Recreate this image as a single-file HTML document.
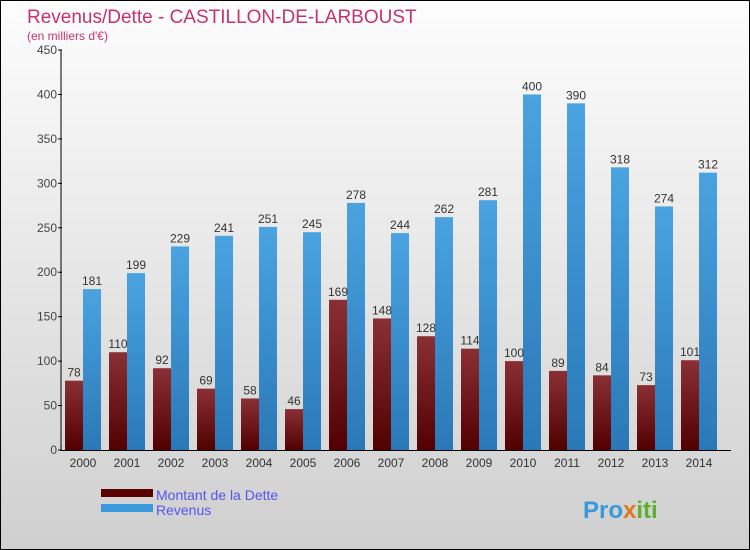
<!DOCTYPE html>
<html><head><meta charset="utf-8"><style>
body{margin:0;width:750px;height:550px;overflow:hidden;font-family:"Liberation Sans",sans-serif}
#wrap{position:absolute;left:0;top:0;width:748px;height:548px;border:1px solid #000;background:linear-gradient(#fdfdfd,#cfcfcf)}
</style></head><body>
<div id="wrap">
<svg id="chart" width="748" height="548" style="position:absolute;left:0;top:0">
<defs>
<linearGradient id="gd" x1="0" y1="0" x2="0" y2="1"><stop offset="0" stop-color="#8a3035"/><stop offset="1" stop-color="#520000"/></linearGradient>
<linearGradient id="gb" x1="0" y1="0" x2="0" y2="1"><stop offset="0" stop-color="#4aa3e0"/><stop offset="1" stop-color="#2a78b8"/></linearGradient>
</defs>
<text x="26" y="22" font-size="19" fill="#c8326e">Revenus/Dette - CASTILLON-DE-LARBOUST</text>
<text x="26" y="39" font-size="12" fill="#c8326e">(en milliers d'€)</text>
<g id="axes"></g><g id="bars"></g>
<rect x="100" y="488" width="52" height="8" fill="#5a0000"/>
<rect x="100" y="503" width="52" height="8" fill="#3a98dc"/>
<text x="155" y="499" font-size="14" fill="#5555ee">Montant de la Dette</text>
<text x="155" y="514" font-size="14" fill="#5555ee">Revenus</text>
<text x="582" y="517" font-size="24" font-weight="bold" fill="#3a98dc">Pro<tspan fill="#e07820">x</tspan><tspan fill="#60b030">iti</tspan></text>
</svg></div>
<script>
const years=["2000","2001","2002","2003","2004","2005","2006","2007","2008","2009","2010","2011","2012","2013","2014"];
const dette=[78,110,92,69,58,46,169,148,128,114,100,89,84,73,101];
const revenus=[181,199,229,241,251,245,278,244,262,281,400,390,318,274,312];
const yTicks=[0,50,100,150,200,250,300,350,400,450];
const NS="http://www.w3.org/2000/svg";
const y=v=>449-v*400/450;
const xc=i=>82+i*44;
function mk(t,a,p){const e=document.createElementNS(NS,t);for(const k in a)e.setAttribute(k,a[k]);p.appendChild(e);return e;}
const ax=document.getElementById('axes'),bg=document.getElementById('bars');
let l=mk('line',{x1:60,y1:y(450),x2:60,y2:y(0)+1,stroke:'#000'},ax);


l=mk('line',{x1:60,y1:y(0)+0.5,x2:730,y2:y(0)+0.5,stroke:'#000'},ax);


yTicks.forEach(v=>{
 mk('line',{x1:57,x2:61,y1:y(v),y2:y(v),stroke:'#000'},ax);
 const t=mk('text',{x:56,y:y(v)+4,'font-size':12,fill:'#444','text-anchor':'end'},ax);t.textContent=v;
 
 
});
years.forEach((yr,i)=>{
 const c=xc(i);
 const t=mk('text',{x:c,y:466,'font-size':12,fill:'#333','text-anchor':'middle'},ax);t.textContent=yr;
 
 
 let r=mk('rect',{x:c-18,y:y(dette[i]),width:18,height:y(0)-y(dette[i]),fill:'url(#gd)'},bg);
 
 
 r=mk('rect',{x:c,y:y(revenus[i]),width:18,height:y(0)-y(revenus[i]),fill:'url(#gb)'},bg);
 
 
 let v=mk('text',{x:c-9,y:y(dette[i])-4,'font-size':12,fill:'#333','text-anchor':'middle'},bg);v.textContent=dette[i];
 
 
 v=mk('text',{x:c+9,y:y(revenus[i])-4,'font-size':12,fill:'#333','text-anchor':'middle'},bg);v.textContent=revenus[i];
 
 
});
</script>
</body></html>
